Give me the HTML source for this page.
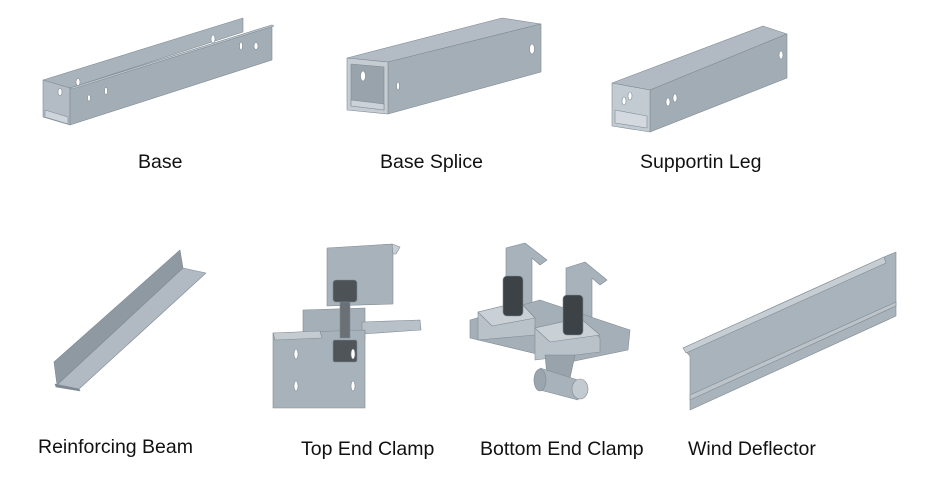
<!DOCTYPE html>
<html><head><meta charset="utf-8"><style>
html,body{margin:0;padding:0;background:#fff;}
svg{display:block}
text{font-family:"Liberation Sans",sans-serif;font-size:19.5px;fill:#111;}
</style></head><body>
<svg width="950" height="484" viewBox="0 0 950 484" xmlns="http://www.w3.org/2000/svg">
<g stroke="#7f8a93" stroke-width="0.6" stroke-linejoin="round">
<!-- Base -->
<polygon points="43,80 243,18 243,32 70,88" fill="#a9b3bb"/>
<polygon points="43,80 70,88 70,125 43,117" fill="#b3bcc4"/>
<polygon points="45,110 68,117 68,124 45,117" fill="#cfd6db"/>
<polygon points="70,88 272,25 272,60 70,125" fill="#a3adb6"/>
<polygon points="70,88 272,25 274,26 72,89" fill="#c4ccd2"/>
<ellipse cx="60" cy="92" rx="2" ry="3.5" fill="#fff"/>
<ellipse cx="78" cy="82" rx="2" ry="3.5" fill="#fff"/>
<ellipse cx="89" cy="98" rx="1.5" ry="3" fill="#fff"/>
<ellipse cx="106" cy="91" rx="1.5" ry="3.5" fill="#fff"/>
<ellipse cx="213" cy="39" rx="2" ry="4" fill="#fff"/>
<ellipse cx="241" cy="46" rx="1.5" ry="4" fill="#fff"/>
<ellipse cx="256" cy="46" rx="2" ry="3.5" fill="#fff"/>
<!-- Base Splice -->
<polygon points="347,58 502,18 541,24 388,62" fill="#b3bcc4"/>
<polygon points="388,62 541,24 541,72 388,114" fill="#a4aeb7"/>
<polygon points="347,58 388,62 388,114 347,110" fill="#c5cdd3"/>
<polygon points="351,64 384,67 384,110 351,106" fill="#98a3ac"/>
<polygon points="351,100 384,104 384,110 351,106" fill="#cbd2d8"/>
<ellipse cx="363" cy="76" rx="2.5" ry="5" fill="#fff"/>
<ellipse cx="398" cy="86" rx="1.5" ry="4" fill="#fff"/>
<ellipse cx="532" cy="49" rx="2.5" ry="5" fill="#fff"/>
<!-- Supporting leg -->
<polygon points="612,83 763,26 787,34 650,90" fill="#b1bac2"/>
<polygon points="650,90 787,34 787,78 650,132" fill="#a2acb5"/>
<polygon points="612,83 650,90 650,132 612,126" fill="#c3cbd2"/>
<polygon points="615,110 647,116 647,128 615,123" fill="#d3d9de"/>
<ellipse cx="624" cy="101" rx="2" ry="4" fill="#fff"/>
<ellipse cx="630" cy="96" rx="2" ry="4" fill="#fff"/>
<ellipse cx="668" cy="102" rx="2" ry="4" fill="#fff"/>
<ellipse cx="675" cy="98" rx="2" ry="4" fill="#fff"/>
<ellipse cx="781" cy="55" rx="2" ry="4" fill="#fff"/>
<!-- Reinforcing Beam -->
<polygon points="54,362 180,250 183,268 57,385" fill="#8f99a2"/>
<polygon points="57,385 183,268 206,273 79,389" fill="#b1bac2"/>
<polygon points="55,384 79,389 80,391 56,387" fill="#7d8890"/>
<!-- Top End Clamp -->
<polygon points="327,248 392,244 398,248 393,254 393,304 327,306" fill="#a8b2bb"/>
<polygon points="392,244 400,247 396,254 393,254" fill="#c7ced4"/>
<polygon points="303,310 365,308 365,340 303,342" fill="#a5afb8"/>
<polygon points="362,322 420,320 421,330 362,334" fill="#b8c0c8"/>
<polygon points="273,333 365,330 365,408 273,408" fill="#a8b2bb"/>
<polygon points="273,333 320,331 322,338 275,340" fill="#c4ccd2"/>
<rect x="333" y="280" width="24" height="22" rx="3" fill="#4d5257"/>
<rect x="340" y="302" width="10" height="36" fill="#6a7076"/>
<rect x="333" y="340" width="24" height="22" rx="2" fill="#50555a"/>
<ellipse cx="296" cy="354" rx="2" ry="5" fill="#fff"/>
<ellipse cx="353" cy="354" rx="2" ry="5" fill="#fff"/>
<ellipse cx="296" cy="386" rx="2" ry="5" fill="#fff"/>
<ellipse cx="353" cy="386" rx="2" ry="5" fill="#fff"/>
<!-- Bottom End Clamp -->
<polygon points="506,248 525,243 547,260 540,265 532,258 532,312 513,318 506,318" fill="#a8b2bb"/>
<polygon points="566,268 585,262 607,280 600,285 592,278 592,328 573,334 566,334" fill="#a8b2bb"/>
<polygon points="470,320 540,300 630,330 628,350 570,362 470,338" fill="#a5afb8"/>
<polygon points="478,312 520,302 535,318 535,335 478,340" fill="#b9c2c9"/>
<polygon points="535,328 580,318 600,338 600,352 535,360" fill="#b9c2c9"/>
<polygon points="478,312 520,302 535,318 492,326" fill="#c9d0d6"/>
<polygon points="535,328 580,318 600,335 550,342" fill="#c9d0d6"/>
<rect x="503" y="276" width="20" height="40" rx="4" fill="#3d4247"/>
<rect x="563" y="295" width="20" height="40" rx="4" fill="#3d4247"/>
<polygon points="545,355 575,355 570,378 547,375" fill="#98a3ac"/>
<path d="M540,368 L578,380 L578,400 L540,390 Z" fill="#a8b2bb"/>
<ellipse cx="540" cy="380" rx="6" ry="11" fill="#9aa5ae"/>
<ellipse cx="580" cy="389" rx="8" ry="10" fill="#c3cbd1"/>
<!-- Wind deflector -->
<polygon points="683,348 884,257 896,252 896,316 690,410 690,356" fill="#a9b3bb"/>
<polygon points="683,348 884,257 886,263 686,353" fill="#c6cdd3"/>
<polygon points="690,395 896,302 896,306 690,400" fill="#bcc4ca"/>
</g>
<text x="138" y="168">Base</text>
<text x="380" y="168">Base Splice</text>
<text x="640" y="168">Supportin Leg</text>
<text x="38" y="453">Reinforcing Beam</text>
<text x="301" y="455">Top End Clamp</text>
<text x="480" y="455">Bottom End Clamp</text>
<text x="688" y="455">Wind Deflector</text>
</svg>
</body></html>
